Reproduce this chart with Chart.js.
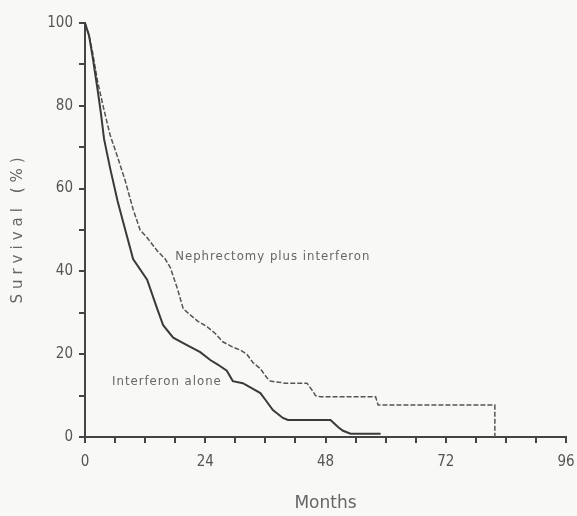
<!DOCTYPE html>
<html lang="en">
<head>
<meta charset="UTF-8" />
<title>Survival</title>
<style>
  * { margin: 0; padding: 0; box-sizing: border-box; }
  body { background: #f8f8f6; }
  .wrap { width: 577px; height: 516px; position: relative; }
</style>
</head>
<body>
<div class="wrap"><canvas id="km"></canvas></div>

<script src="https://cdn.jsdelivr.net/npm/chart.js@4.4.1/dist/chart.umd.min.js"></script>
<script>
  // Kaplan-Meier readings, months vs. % surviving
  const aloneMonths = [0, 0.8, 1.5, 2.5, 3.2, 3.8, 5, 6.5, 7.6, 9.6, 12.4, 14.4, 15.6, 17.6, 19.6, 23, 25, 26.5, 28.3, 29.5, 31.5, 33, 35, 36, 37.5, 39.5, 40.5, 49, 50.5, 51.5, 53, 59];
  const aloneSurvival = [100, 97, 92, 84, 78, 72, 65, 57, 52, 43, 38, 31, 27, 24, 22.7, 20.5, 18.6, 17.5, 16, 13.5, 13, 12, 10.6, 9, 6.5, 4.6, 4.1, 4.1, 2.4, 1.5, 0.8, 0.8];

  const nephMonths = [0, 0.8, 1.5, 2.5, 3.6, 5, 6.4, 8, 9.6, 11, 12.5, 14.4, 16, 17, 18.4, 19.6, 21, 22.5, 24.4, 26, 27.5, 29.5, 31, 32.3, 33.5, 35, 36.3, 37, 40, 44.3, 45.5, 46, 47, 58, 58.5, 81.8, 81.8];
  const nephSurvival = [100, 97, 93, 86, 80, 73, 68, 62, 55, 50, 48, 45, 43, 41, 36, 31, 29.5, 28, 26.6, 25, 23, 21.7, 21, 20, 18, 16.5, 14.3, 13.5, 13, 13, 11, 10, 9.7, 9.7, 7.7, 7.7, 0];

  const seriesNames = ["Interferon alone", "Nephrectomy plus interferon"];
  const yLabelValues = [0, 20, 40, 60, 80, 100];
  const xLabelValues = [0, 24, 48, 72, 96];

  const toPoints = (xs, ys) => xs.map((m, i) => ({ x: m, y: ys[i] }));

  const tickFont = { family: "'DejaVu Sans Condensed', 'DejaVu Sans', sans-serif", size: 15 };
  const axisGrid = {
    display: true,
    drawOnChartArea: false,
    drawTicks: true,
    tickLength: 6,
    color: "#444",
    lineWidth: 2
  };

  // curve labels and the spaced-out y title
  const textPlugin = {
    id: "textPlugin",
    afterDraw(chart) {
      const { ctx, scales } = chart;
      ctx.save();
      ctx.fillStyle = "#666";
      ctx.textBaseline = "middle";
      ctx.textAlign = "left";
      ctx.font = "13px 'DejaVu Sans Condensed', 'DejaVu Sans', sans-serif";
      ctx.letterSpacing = "1px";
      ctx.fillText(seriesNames[1], scales.x.getPixelForValue(18), scales.y.getPixelForValue(43.5));
      ctx.fillText(seriesNames[0], scales.x.getPixelForValue(5.4), scales.y.getPixelForValue(13.3));

      ctx.translate(18, (chart.chartArea.top + chart.chartArea.bottom) / 2);
      ctx.rotate(-Math.PI / 2);
      ctx.textAlign = "center";
      ctx.font = "15px 'DejaVu Sans', sans-serif";
      ctx.letterSpacing = "5px";
      ctx.fillText("Survival (%)", 2, 0);
      ctx.restore();
    }
  };

  new Chart(document.getElementById("km"), {
    type: "line",
    data: {
      datasets: [
        {
          label: seriesNames[0],
          data: toPoints(aloneMonths, aloneSurvival),
          borderColor: "#3a3a3a",
          borderWidth: 2,
          pointRadius: 0,
          tension: 0
        },
        {
          label: seriesNames[1],
          data: toPoints(nephMonths, nephSurvival),
          borderColor: "#555",
          borderWidth: 1.5,
          borderDash: [5, 2],
          pointRadius: 0,
          tension: 0
        }
      ]
    },
    options: {
      responsive: true,
      maintainAspectRatio: false,
      animation: false,
      layout: { padding: { top: 23, right: 11, left: 0, bottom: 0 } },
      plugins: { legend: { display: false }, tooltip: { enabled: false } },
      scales: {
        x: {
          type: "linear",
          min: 0,
          max: 96,
          afterFit: (s) => {
            s.height = 79;
            s.paddingLeft = 0;
            s.paddingRight = 0;
          },
          border: { color: "#444", width: 2 },
          grid: axisGrid,
          ticks: {
            stepSize: 6,
            color: "#555",
            font: tickFont,
            padding: 10,
            maxRotation: 0,
            callback: (v) => (xLabelValues.includes(v) ? v : "")
          },
          title: {
            display: true,
            text: "Months",
            color: "#666",
            font: { family: "'DejaVu Sans', sans-serif", size: 17 },
            padding: { top: 0, bottom: 2 }
          }
        },
        y: {
          min: 0,
          max: 100,
          afterFit: (s) => { s.width = 85; },
          border: { color: "#444", width: 2 },
          grid: axisGrid,
          ticks: {
            stepSize: 10,
            color: "#555",
            font: tickFont,
            padding: 6,
            callback: (v) => (yLabelValues.includes(v) ? v : "")
          }
        }
      }
    },
    plugins: [textPlugin]
  });
</script>
</body>
</html>
